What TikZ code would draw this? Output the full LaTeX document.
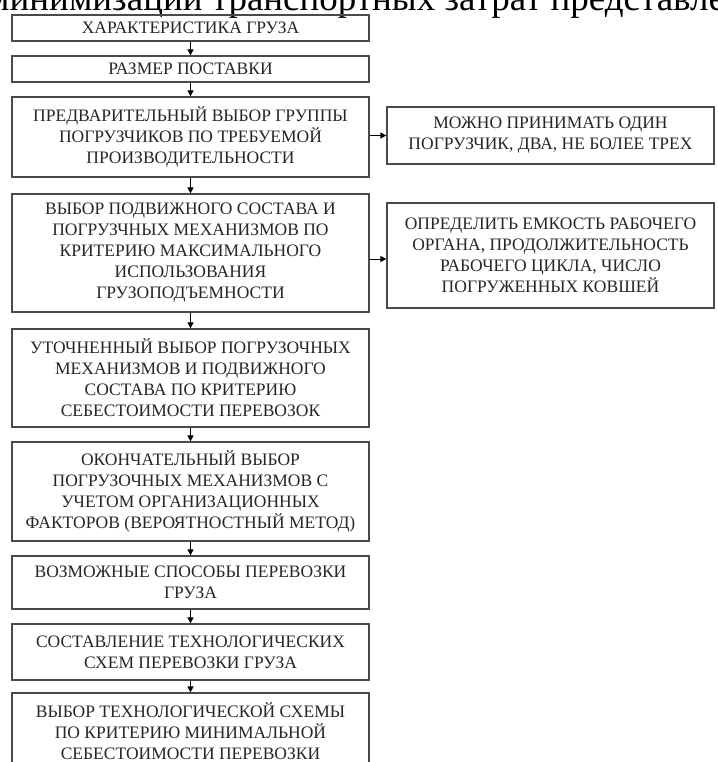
\documentclass[tikz,border=0pt]{standalone}
\usepackage{fontspec}
\setmainfont{Liberation Serif}
\usetikzlibrary{arrows.meta}
\definecolor{boxline}{HTML}{4A4A4A}
\definecolor{boxtext}{HTML}{262626}
\tikzset{
  lbox/.style={draw=boxline, line width=1.3pt, minimum width=357pt, inner sep=0pt,
    align=center, text=boxtext, font=\fontsize{17.5}{21}\selectfont},
  rbox/.style={draw=boxline, line width=1.3pt, minimum width=327pt, inner sep=0pt,
    align=center, text=boxtext, font=\fontsize{17.5}{21}\selectfont},
  arr/.style={draw=black, line width=1pt, -{Triangle[length=6pt,width=6pt]}},
}
\begin{document}
\begin{tikzpicture}[x=1pt,y=-1pt]
\useasboundingbox (0,0) rectangle (717,762);
\clip (0,0) rectangle (717,762);
\node[anchor=base west, font=\fontsize{37}{37}\selectfont, inner sep=0pt] (top) at (-14,11) {минимизации транспортных затрат представлен};
\node[lbox, minimum height=26pt] (b1) at (190.5,28) {ХАРАКТЕРИСТИКА ГРУЗА};
\node[lbox, minimum height=26pt] (b2) at (190.5,69) {РАЗМЕР ПОСТАВКИ};
\node[lbox, minimum height=80pt] (b3) at (190.5,137) {ПРЕДВАРИТЕЛЬНЫЙ ВЫБОР ГРУППЫ\\ПОГРУЗЧИКОВ ПО ТРЕБУЕМОЙ\\ПРОИЗВОДИТЕЛЬНОСТИ};
\node[lbox, minimum height=118pt] (b4) at (190.5,253) {ВЫБОР ПОДВИЖНОГО СОСТАВА И\\ПОГРУЗЧНЫХ МЕХАНИЗМОВ ПО\\КРИТЕРИЮ МАКСИМАЛЬНОГО\\ИСПОЛЬЗОВАНИЯ\\ГРУЗОПОДЪЕМНОСТИ};
\node[lbox, minimum height=98pt] (b5) at (190.5,378) {УТОЧНЕННЫЙ ВЫБОР ПОГРУЗОЧНЫХ\\МЕХАНИЗМОВ И ПОДВИЖНОГО\\СОСТАВА ПО КРИТЕРИЮ\\СЕБЕСТОИМОСТИ ПЕРЕВОЗОК};
\node[lbox, minimum height=99pt] (b6) at (190.5,491.5) {ОКОНЧАТЕЛЬНЫЙ ВЫБОР\\ПОГРУЗОЧНЫХ МЕХАНИЗМОВ С\\УЧЕТОМ ОРГАНИЗАЦИОННЫХ\\ФАКТОРОВ (ВЕРОЯТНОСТНЫЙ МЕТОД)};
\node[lbox, minimum height=53pt] (b7) at (190.5,582.5) {ВОЗМОЖНЫЕ СПОСОБЫ ПЕРЕВОЗКИ\\ГРУЗА};
\node[lbox, minimum height=56pt] (b8) at (190.5,652) {СОСТАВЛЕНИЕ ТЕХНОЛОГИЧЕСКИХ\\СХЕМ ПЕРЕВОЗКИ ГРУЗА};
\node[lbox, minimum height=76pt] (b9) at (190.5,731) {ВЫБОР ТЕХНОЛОГИЧЕСКОЙ СХЕМЫ\\ПО КРИТЕРИЮ МИНИМАЛЬНОЙ\\СЕБЕСТОИМОСТИ ПЕРЕВОЗКИ};
\node[rbox, minimum height=57pt] (r1) at (550.5,135.5) {МОЖНО ПРИНИМАТЬ ОДИН\\ПОГРУЗЧИК, ДВА, НЕ БОЛЕЕ ТРЕХ};
\node[rbox, minimum height=105pt] (r2) at (550.5,255.5) {ОПРЕДЕЛИТЬ ЕМКОСТЬ РАБОЧЕГО\\ОРГАНА, ПРОДОЛЖИТЕЛЬНОСТЬ\\РАБОЧЕГО ЦИКЛА, ЧИСЛО\\ПОГРУЖЕННЫХ КОВШЕЙ};
\foreach \a/\b in {b1/b2,b2/b3,b3/b4,b4/b5,b5/b6,b6/b7,b7/b8,b8/b9}
  \draw[arr] (\a.south) -- (\b.north);
\draw[arr] (r1.west -| b3.east) -- (r1.west);
\draw[arr] ([yshift=-3.5pt]r2.west -| b4.east) -- ([yshift=-3.5pt]r2.west);
\end{tikzpicture}
\end{document}
